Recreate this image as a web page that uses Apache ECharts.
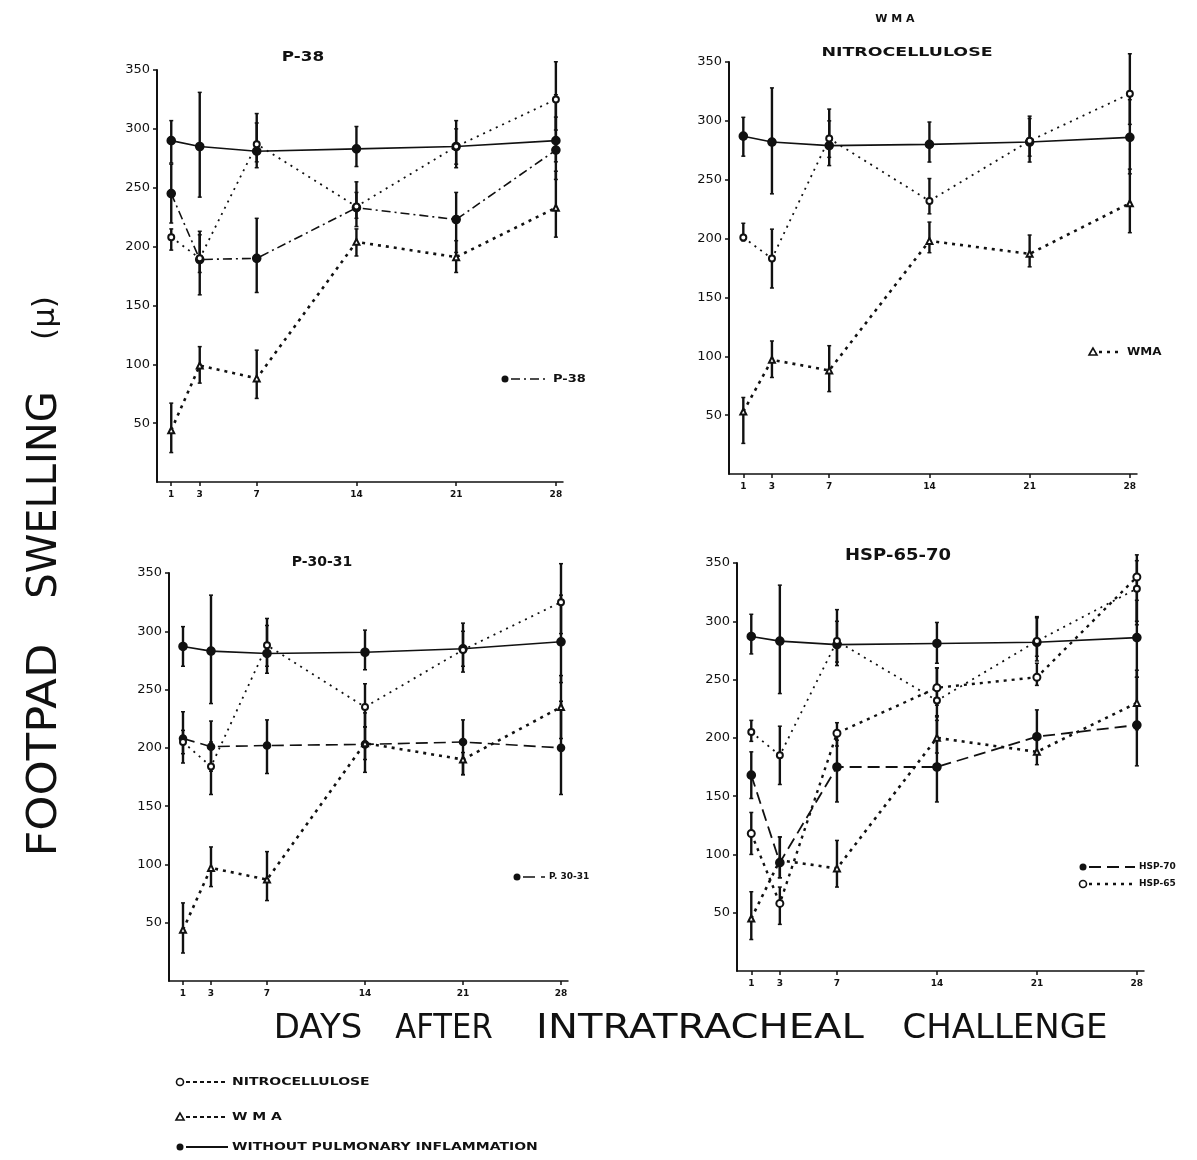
<!DOCTYPE html>
<html>
<head>
<meta charset="utf-8">
<script src="https://cdn.jsdelivr.net/npm/echarts@6/dist/echarts.min.js"></script>
<style>
html,body{margin:0;padding:0;background:#fff;}
#c{width:1197px;height:1160px;}
</style>
</head>
<body>
<div id="c"></div>
<script>
// ---------- DATA ----------
const days = [1, 3, 7, 14, 21, 28];
const yMin = 0, yMax = 350, yStep = 50;

// Panel 1: P-38
const p1Without = [290, 285, 281, 283, 285, 290];
const p1WithoutErr = [[271, 307], [242, 331], [267, 313], [268, 302], [267, 307], [272, 310]];
const p1P38 = [245, 189, 190, 233, 223, 282];
const p1P38Err = [[220, 270], [159, 213], [161, 224], [217, 255], [195, 246], [257, 329]];
const p1Nitro = [208, 190, 287, 234, 285, 325];
const p1NitroErr = [[197, 215], [178, 210], [272, 305], [224, 246], [270, 300], [299, 357]];
const p1Wma = [44, 99, 88, 204, 191, 233];
const p1WmaErr = [[25, 67], [84, 115], [71, 112], [192, 215], [178, 205], [208, 264]];

// Panel 2: WMA / Nitrocellulose
const p2Without = [287, 282, 279, 280, 282, 286];
const p2WithoutErr = [[270, 303], [238, 328], [262, 300], [265, 299], [265, 304], [255, 318]];
const p2Nitro = [201, 183, 285, 232, 283, 323];
const p2NitroErr = [[198, 213], [158, 208], [269, 310], [221, 251], [270, 302], [297, 357]];
const p2Wma = [53, 97, 88, 198, 187, 230];
const p2WmaErr = [[26, 65], [82, 113], [70, 109], [188, 214], [176, 203], [205, 259]];

// Panel 3: P-30-31
const p3Without = [287, 283, 281, 282, 285, 291];
const p3WithoutErr = [[270, 304], [238, 331], [264, 311], [267, 301], [265, 307], [256, 331]];
const p3P3031 = [208, 201, 202, 203, 205, 200];
const p3P3031Err = [[187, 231], [180, 223], [178, 224], [179, 230], [177, 224], [160, 240]];
const p3Nitro = [205, 184, 288, 235, 284, 325];
const p3NitroErr = [[195, 215], [160, 205], [270, 305], [218, 255], [270, 300], [298, 358]];
const p3Wma = [44, 97, 87, 204, 190, 235];
const p3WmaErr = [[24, 67], [81, 115], [69, 111], [190, 218], [177, 196], [208, 262]];

// Panel 4: HSP-65-70
const p4Without = [287, 283, 280, 281, 282, 286];
const p4WithoutErr = [[272, 306], [238, 331], [262, 310], [264, 299], [266, 304], [252, 318]];
const p4Nitro = [205, 185, 283, 232, 283, 328];
const p4NitroErr = [[197, 215], [160, 210], [265, 300], [218, 260], [270, 303], [297, 357]];
const p4Wma = [45, 95, 88, 200, 188, 230];
const p4WmaErr = [[27, 68], [80, 115], [72, 112], [187, 215], [177, 200], [207, 258]];
const p4Hsp70 = [168, 93, 175, 175, 201, 211];
const p4Hsp70Err = [[148, 188], [80, 115], [145, 198], [145, 219], [186, 224], [176, 252]];
const p4Hsp65 = [118, 58, 204, 243, 252, 338];
const p4Hsp65Err = [[100, 136], [40, 72], [193, 213], [228, 260], [245, 264], [300, 352]];

// ---------- STYLES ----------
const K = '#111';
const styles = {
  without: { type: 'solid', width: 1.6, symbol: 'circle', size: 8 },
  nitro:   { type: [2, 5], width: 1.8, symbol: 'emptyCircle', size: 6 },
  wma:     { type: [3, 5], width: 2.6, symbol: 'emptyTriangle', size: 6 },
  p38:     { type: [9, 4, 2, 4], width: 1.6, symbol: 'circle', size: 8 },
  p3031:   { type: [12, 6], width: 1.6, symbol: 'circle', size: 7 },
  hsp70:   { type: [12, 6], width: 1.8, symbol: 'circle', size: 8 },
  hsp65:   { type: [3, 5], width: 2.4, symbol: 'emptyCircle', size: 7 }
};

const grids = [
  { left: 157, top: 70, width: 406, height: 412 },
  { left: 729, top: 62, width: 408, height: 412 },
  { left: 169, top: 573, width: 399, height: 408 },
  { left: 737, top: 563, width: 407, height: 408 }
];

function lineSeries(gi, name, vals, st) {
  return {
    type: 'line', name: name, xAxisIndex: gi, yAxisIndex: gi,
    data: days.map((d, i) => [d, vals[i]]),
    symbol: st.symbol, symbolSize: st.size,
    lineStyle: { color: K, width: st.width, type: st.type },
    itemStyle: { color: K, borderColor: K, borderWidth: 1.6 },
    z: 3, animation: false
  };
}
function errSeries(gi, errs) {
  return {
    type: 'custom', xAxisIndex: gi, yAxisIndex: gi,
    data: days.map((d, i) => [d, errs[i][0], errs[i][1]]),
    encode: { x: 0, y: [1, 2] },
    renderItem: function (params, api) {
      const lo = api.coord([api.value(0), api.value(1)]);
      const hi = api.coord([api.value(0), api.value(2)]);
      return {
        type: 'group', children: [
          { type: 'line', shape: { x1: lo[0], y1: lo[1], x2: hi[0], y2: hi[1] }, style: { stroke: K, lineWidth: 2.4 } },
          { type: 'line', shape: { x1: lo[0] - 2, y1: lo[1], x2: lo[0] + 2, y2: lo[1] }, style: { stroke: K, lineWidth: 1.5 } },
          { type: 'line', shape: { x1: hi[0] - 2, y1: hi[1], x2: hi[0] + 2, y2: hi[1] }, style: { stroke: K, lineWidth: 1.5 } }
        ]
      };
    },
    z: 2, animation: false
  };
}

const xAxes = grids.map((g, i) => ({
  type: 'value', gridIndex: i, min: 0, max: 28.5,
  axisLine: { lineStyle: { color: K, width: 1.5 } },
  axisTick: { show: true, customValues: days, length: 4, inside: false, lineStyle: { color: K, width: 1.5 } },
  axisLabel: { customValues: days, color: K, fontSize: 9, fontWeight: 'bold', fontFamily: 'DejaVu Sans', margin: 8 },
  splitLine: { show: false }
}));
const yAxes = grids.map((g, i) => ({
  type: 'value', gridIndex: i, min: yMin, max: yMax, interval: yStep,
  axisLine: { show: true, lineStyle: { color: K, width: 2 } },
  axisTick: { show: true, length: 4, lineStyle: { color: K, width: 1.5 } },
  axisLabel: { showMinLabel: false, color: K, fontSize: 13, fontFamily: 'DejaVu Sans', margin: 7 },
  splitLine: { show: false }
}));

const series = [
  errSeries(0, p1WithoutErr), errSeries(0, p1P38Err), errSeries(0, p1NitroErr), errSeries(0, p1WmaErr),
  lineSeries(0, 'Without', p1Without, styles.without),
  lineSeries(0, 'P-38', p1P38, styles.p38),
  lineSeries(0, 'Nitrocellulose', p1Nitro, styles.nitro),
  lineSeries(0, 'WMA', p1Wma, styles.wma),

  errSeries(1, p2WithoutErr), errSeries(1, p2NitroErr), errSeries(1, p2WmaErr),
  lineSeries(1, 'Without', p2Without, styles.without),
  lineSeries(1, 'Nitrocellulose', p2Nitro, styles.nitro),
  lineSeries(1, 'WMA', p2Wma, styles.wma),

  errSeries(2, p3WithoutErr), errSeries(2, p3P3031Err), errSeries(2, p3NitroErr), errSeries(2, p3WmaErr),
  lineSeries(2, 'Without', p3Without, styles.without),
  lineSeries(2, 'P-30-31', p3P3031, styles.p3031),
  lineSeries(2, 'Nitrocellulose', p3Nitro, styles.nitro),
  lineSeries(2, 'WMA', p3Wma, styles.wma),

  errSeries(3, p4WithoutErr), errSeries(3, p4NitroErr), errSeries(3, p4WmaErr), errSeries(3, p4Hsp70Err), errSeries(3, p4Hsp65Err),
  lineSeries(3, 'Without', p4Without, styles.without),
  lineSeries(3, 'Nitrocellulose', p4Nitro, styles.nitro),
  lineSeries(3, 'WMA', p4Wma, styles.wma),
  lineSeries(3, 'HSP-70', p4Hsp70, styles.hsp70),
  lineSeries(3, 'HSP-65', p4Hsp65, styles.hsp65)
];

// ---------- ANNOTATION HELPERS ----------
function txt(x, y, s, size, opts) {
  opts = opts || {};
  return {
    type: 'text', x: x, y: y, rotation: opts.rot || 0, scaleX: opts.sx || 1, scaleY: opts.sy || 1,
    style: {
      text: s, fill: K, fontSize: size, fontWeight: opts.bold ? 'bold' : 'normal',
      fontFamily: opts.font || 'DejaVu Sans', textAlign: opts.align || 'left', textVerticalAlign: 'middle'
    }, z: 10
  };
}
function key(x, y, len, st, label, tsize, sx) {
  const els = [];
  els.push({ type: 'line', shape: { x1: x + 6, y1: y, x2: x + 6 + len, y2: y },
    style: { stroke: K, lineWidth: st.width, lineDash: st.type === 'solid' ? null : st.type }, z: 10 });
  if (st.symbol === 'circle') {
    els.push({ type: 'circle', shape: { cx: x, cy: y, r: 3.5 }, style: { fill: K }, z: 10 });
  } else if (st.symbol === 'emptyCircle') {
    els.push({ type: 'circle', shape: { cx: x, cy: y, r: 3.5 }, style: { fill: '#fff', stroke: K, lineWidth: 1.6 }, z: 10 });
  } else {
    els.push({ type: 'polygon', shape: { points: [[x, y - 4], [x - 4, y + 3], [x + 4, y + 3]] }, style: { fill: '#fff', stroke: K, lineWidth: 1.6 }, z: 10 });
  }
  els.push(txt(x + len + 10, y, label, tsize, { bold: true, sx: sx }));
  return els;
}

const ROT = Math.PI / 2;
const graphics = [
  txt(303, 57, 'P-38', 14, { bold: true, align: 'center', sx: 1.2 }),
  txt(895, 19, 'W M A', 11, { bold: true, align: 'center' }),
  txt(907, 53, 'NITROCELLULOSE', 12, { bold: true, align: 'center', sx: 1.45 }),
  txt(322, 562, 'P-30-31', 14, { bold: true, align: 'center', sx: 1.0 }),
  txt(898, 556, 'HSP-65-70', 15, { bold: true, align: 'center', sx: 1.2 }),
  // y-axis title, rotated (reads bottom to top)
  txt(46, 750, 'FOOTPAD', 40, { rot: ROT, align: 'center', sx: 1.12 }),
  txt(46, 495, 'SWELLING', 40, { rot: ROT, align: 'center' }),
  txt(46, 318, '(μ)', 31, { rot: ROT, align: 'center' }),
  // x-axis title
  txt(318, 1029, 'DAYS', 34, { align: 'center' }),
  txt(444, 1029, 'AFTER', 34, { align: 'center', sx: 0.9 }),
  txt(700, 1029, 'INTRATRACHEAL', 34, { align: 'center', sx: 1.18 }),
  txt(1005, 1029, 'CHALLENGE', 34, { align: 'center' })
]
  .concat(key(505, 379, 38, styles.p38, 'P-38', 10, 1.3))
  .concat(key(1093, 352, 24, styles.wma, 'WMA', 10, 1.2))
  .concat(key(517, 877, 22, styles.p3031, 'P. 30-31', 9, 1.0))
  .concat(key(1083, 867, 46, styles.hsp70, 'HSP-70', 9, 1.0))
  .concat(key(1083, 884, 46, styles.hsp65, 'HSP-65', 9, 1.0))
  .concat(key(180, 1082, 42, { type: [4, 3], width: 2, symbol: 'emptyCircle' }, 'NITROCELLULOSE', 10, 1.4))
  .concat(key(180, 1117, 42, { type: [4, 3], width: 2, symbol: 'emptyTriangle' }, 'W M A', 10, 1.4))
  .concat(key(180, 1147, 42, { type: 'solid', width: 2, symbol: 'circle' }, 'WITHOUT PULMONARY INFLAMMATION', 10, 1.4));

const chart = echarts.init(document.getElementById('c'), null, { renderer: 'canvas' });
chart.setOption({
  backgroundColor: '#fff',
  animation: false,
  grid: grids,
  xAxis: xAxes,
  yAxis: yAxes,
  series: series,
  graphic: graphics
});
</script>
</body>
</html>
